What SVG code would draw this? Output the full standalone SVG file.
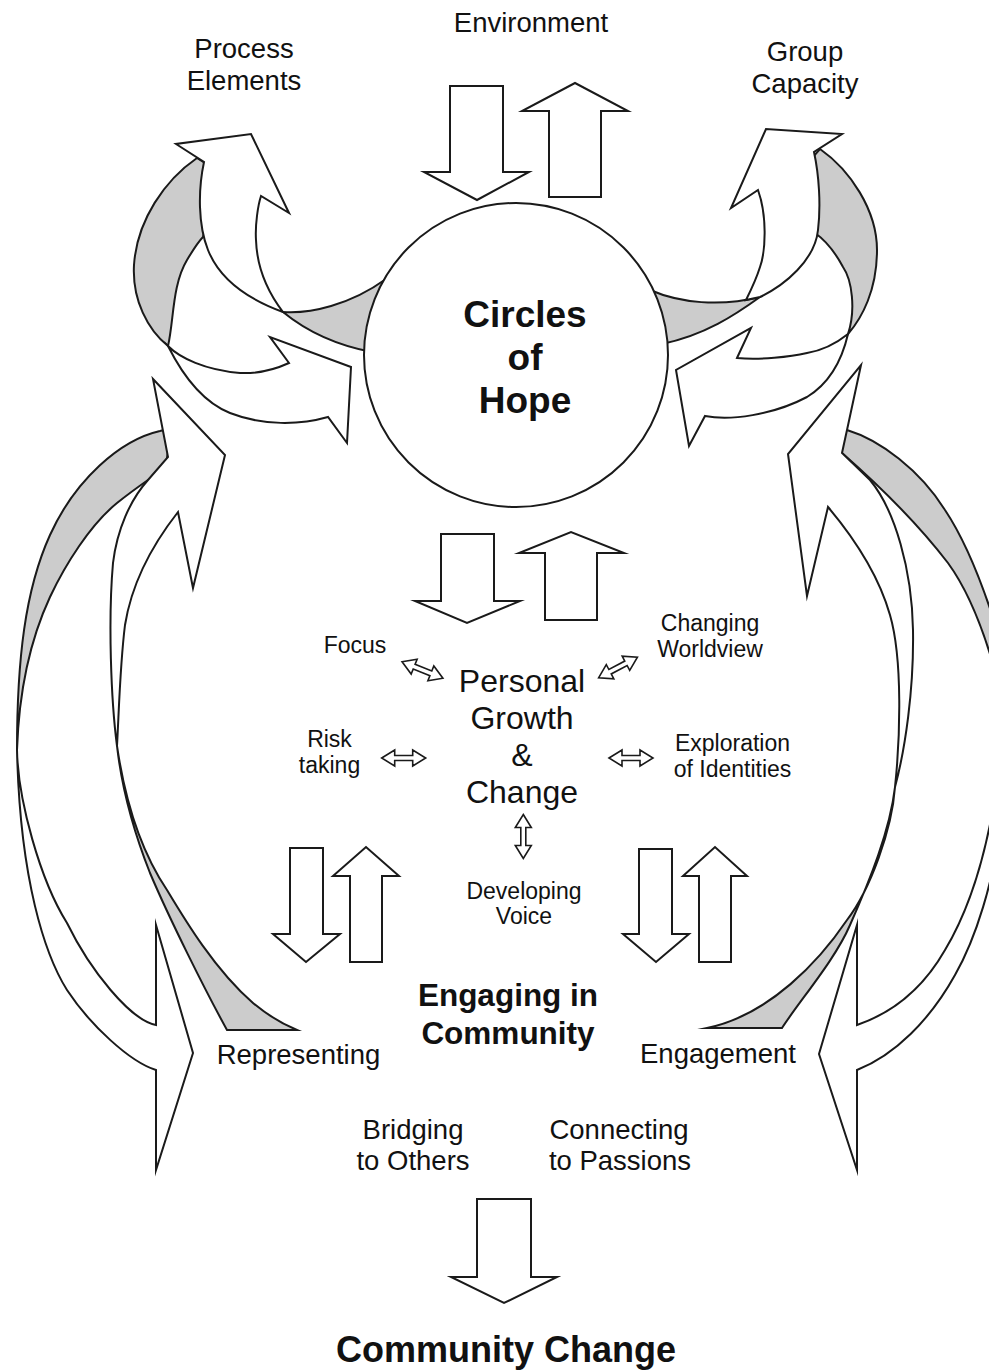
<svg xmlns="http://www.w3.org/2000/svg" width="989" height="1371" viewBox="0 0 989 1371">
<style>
.s{stroke:#1a1a1a;stroke-width:2;stroke-linejoin:miter;stroke-miterlimit:10}
.w{fill:#ffffff}
.g{fill:#cccccc}
.d{fill:#ffffff;stroke:#1a1a1a;stroke-width:1.6}
text{font-family:"Liberation Sans",Arial,sans-serif;fill:#111;text-anchor:middle}
.lab{font-size:27.5px}
.sm{font-size:23px}
.pg{font-size:32px}
.b{font-weight:bold}
</style>
<defs>
<path id="dbl" d="M-22,0 L-9,-8 L-9,-2.5 L9,-2.5 L9,-8 L22,0 L9,8 L9,2.5 L-9,2.5 L-9,8 Z"/>
</defs>
<rect width="989" height="1371" fill="#ffffff"/>

<g id="connectors">
<!-- back ribbons: gray parts -->
<path class="s g" d="M197,158 C165,180 137,220 134,265 C132,300 148,330 168,346 C174,320 172,285 187,260 C193,250 198,242 203,237 L212,200 L208,165 Z"/>
<path class="s g" d="M820,149 C850,170 877,210 877,250 C877,290 862,318 848,334 C856,310 852,280 843,267 C835,252 825,240 815,233 L810,200 L812,158 Z"/>
<path class="s g" d="M172,428 L160,431 C120,440 75,480 50,535 C25,590 17,660 17,750 C19,690 30,640 50,597 C65,565 90,525 117,503 C127,495 138,487 148,480 L165,470 Z"/>
<path class="s g" d="M838,440 L847,430 C880,440 920,470 945,510 C965,540 985,590 1000,640 L1000,690 C990,650 975,600 948,563 C925,533 890,495 842,453 Z"/>
<!-- back ribbons: white arrows -->
<path class="s w" d="M168,346 C180,358 205,370 240,373 C260,374 278,368 289,363 L270,337 L351,367 L347,443 L328,417 C300,425 263,426 230,413 C205,403 185,380 168,346 Z"/>
<path class="s w" d="M848,334 C838,342 825,350 807,353 C790,357 760,360 737,358 L751,328 L676,370 L689,446 L705,416 C730,421 773,415 807,397 C830,383 842,360 848,334 Z"/>
<path class="s w" d="M17,750 C18,800 40,880 67,923 C90,970 130,1020 156,1025 L156,925 L193,1053 L156,1170 L156,1070 C130,1062 90,1025 67,990 C45,955 20,880 17,750 Z"/>
<path class="s w" d="M1000,760 C992,830 975,900 945,950 C925,985 895,1012 857,1025 L857,925 L819,1054 L857,1170 L857,1070 C895,1055 930,1020 955,975 C975,940 995,880 1000,820 Z"/>
<!-- front ribbons: gray parts -->
<path class="s g" d="M283,312 C310,314 350,305 386,279 L420,320 L372,352 C335,345 305,330 283,312 Z"/>
<path class="s g" d="M650,290 C680,303 720,307 760,297 C735,315 705,335 662,344 L640,340 Z"/>
<path class="s g" d="M117,746 C125,800 140,850 167,890 C185,920 215,970 253,1003 C265,1013 280,1023 297,1030 L227,1030 C205,990 170,920 150,873 C135,835 122,790 117,746 Z"/>
<path class="s g" d="M895,787 C892,830 870,890 847,920 C820,960 770,1015 707,1028 L782,1028 C800,1000 835,960 850,925 C870,880 890,830 895,787 Z"/>
</g>

<g id="circles-of-hope">
<circle class="s w" cx="516" cy="355" r="152"/>
<text class="b" font-size="37" x="525" y="327">Circles</text>
<text class="b" font-size="37" x="525" y="370">of</text>
<text class="b" font-size="37" x="525" y="413">Hope</text>
</g>

<g id="front-arrows">
<path class="s w" d="M283,312 C270,295 257,270 256,240 C255,225 258,205 261,196 L289,213 L251,134 L176,144 L204,162 C198,190 198,225 208,250 C220,280 250,300 283,312 Z"/>
<path class="s w" d="M760,297 C785,285 815,260 818,230 C821,205 819,175 814,152 L842,134 L766,129 L731,208 L758,190 C767,215 766,250 760,267 C756,280 750,292 746,300 Z"/>
<path class="s w" d="M117,746 C111,700 108,620 113,563 C117,530 130,500 148,480 L168,457 L153,379 L225,455 L193,588 L178,512 C160,535 133,575 125,625 C120,665 119,710 117,746 Z"/>
<path class="s w" d="M895,787 C900,740 903,660 890,615 C880,580 860,545 828,507 L807,596 L788,454 L861,365 L847,430 L842,453 L870,480 C895,510 912,570 913,630 C914,690 905,750 895,787 Z"/>
</g>

<g id="block-arrows">
<path class="s w" d="M450,86 H503 V172 H529 L477,200 L424,172 H450 Z"/>
<path class="s w" d="M549,197 V111 H522 L575,83 L628,111 H601 V197 Z"/>
<path class="s w" d="M441,534 H494 V601 H520 L467,623 L415,601 H441 Z"/>
<path class="s w" d="M545,620 V553 H519 L571,532 L624,553 H597 V620 Z"/>
<path class="s w" d="M290,848 H323 V934 H340 L306,962 L273,934 H290 Z"/>
<path class="s w" d="M350,962 V876 H333 L366,847 L399,876 H382 V962 Z"/>
<path class="s w" d="M639,849 H672 V934 H689 L656,962 L623,934 H639 Z"/>
<path class="s w" d="M699,962 V876 H683 L715,847 L747,876 H731 V962 Z"/>
<path class="s w" d="M477,1199 H531 V1277 H557 L504,1303 L451,1277 H477 Z"/>
</g>

<g id="double-arrows">
<use href="#dbl" class="d" transform="translate(422.5,670) rotate(21.8)"/>
<use href="#dbl" class="d" transform="translate(618,667.5) rotate(-28)"/>
<use href="#dbl" class="d" transform="translate(403.7,758)"/>
<use href="#dbl" class="d" transform="translate(631,758)"/>
<use href="#dbl" class="d" transform="translate(523.3,836.5) rotate(90)"/>
</g>

<g id="environment"><text class="lab" x="531" y="32">Environment</text></g>
<g id="process-elements"><text class="lab" x="244" y="58">Process</text><text class="lab" x="244" y="90">Elements</text></g>
<g id="group-capacity"><text class="lab" x="805" y="61">Group</text><text class="lab" x="805" y="93">Capacity</text></g>

<g id="personal-growth">
<text class="pg" x="522" y="692">Personal</text>
<text class="pg" x="522" y="729">Growth</text>
<text class="pg" x="522" y="766">&amp;</text>
<text class="pg" x="522" y="803">Change</text>
</g>
<g id="focus"><text class="sm" x="355" y="653">Focus</text></g>
<g id="risk-taking"><text class="sm" x="329.5" y="747">Risk</text><text class="sm" x="329.5" y="773">taking</text></g>
<g id="changing-worldview"><text class="sm" x="710" y="631">Changing</text><text class="sm" x="710" y="657">Worldview</text></g>
<g id="exploration"><text class="sm" x="732.5" y="751">Exploration</text><text class="sm" x="732.5" y="777">of Identities</text></g>
<g id="developing-voice"><text class="sm" x="524" y="899">Developing</text><text class="sm" x="524" y="924">Voice</text></g>

<g id="engaging-in-community">
<text class="b" font-size="31.5" x="508" y="1006">Engaging in</text>
<text class="b" font-size="31.5" x="508" y="1044">Community</text>
</g>
<g id="representing"><text class="lab" x="298.5" y="1064">Representing</text></g>
<g id="engagement"><text class="lab" x="718" y="1063">Engagement</text></g>
<g id="bridging"><text class="lab" x="413" y="1139">Bridging</text><text class="lab" x="413" y="1170">to Others</text></g>
<g id="connecting"><text class="lab" x="619" y="1139">Connecting</text><text class="lab" x="620" y="1170">to Passions</text></g>
<g id="community-change"><text class="b" font-size="36" x="506" y="1362">Community Change</text></g>
</svg>
